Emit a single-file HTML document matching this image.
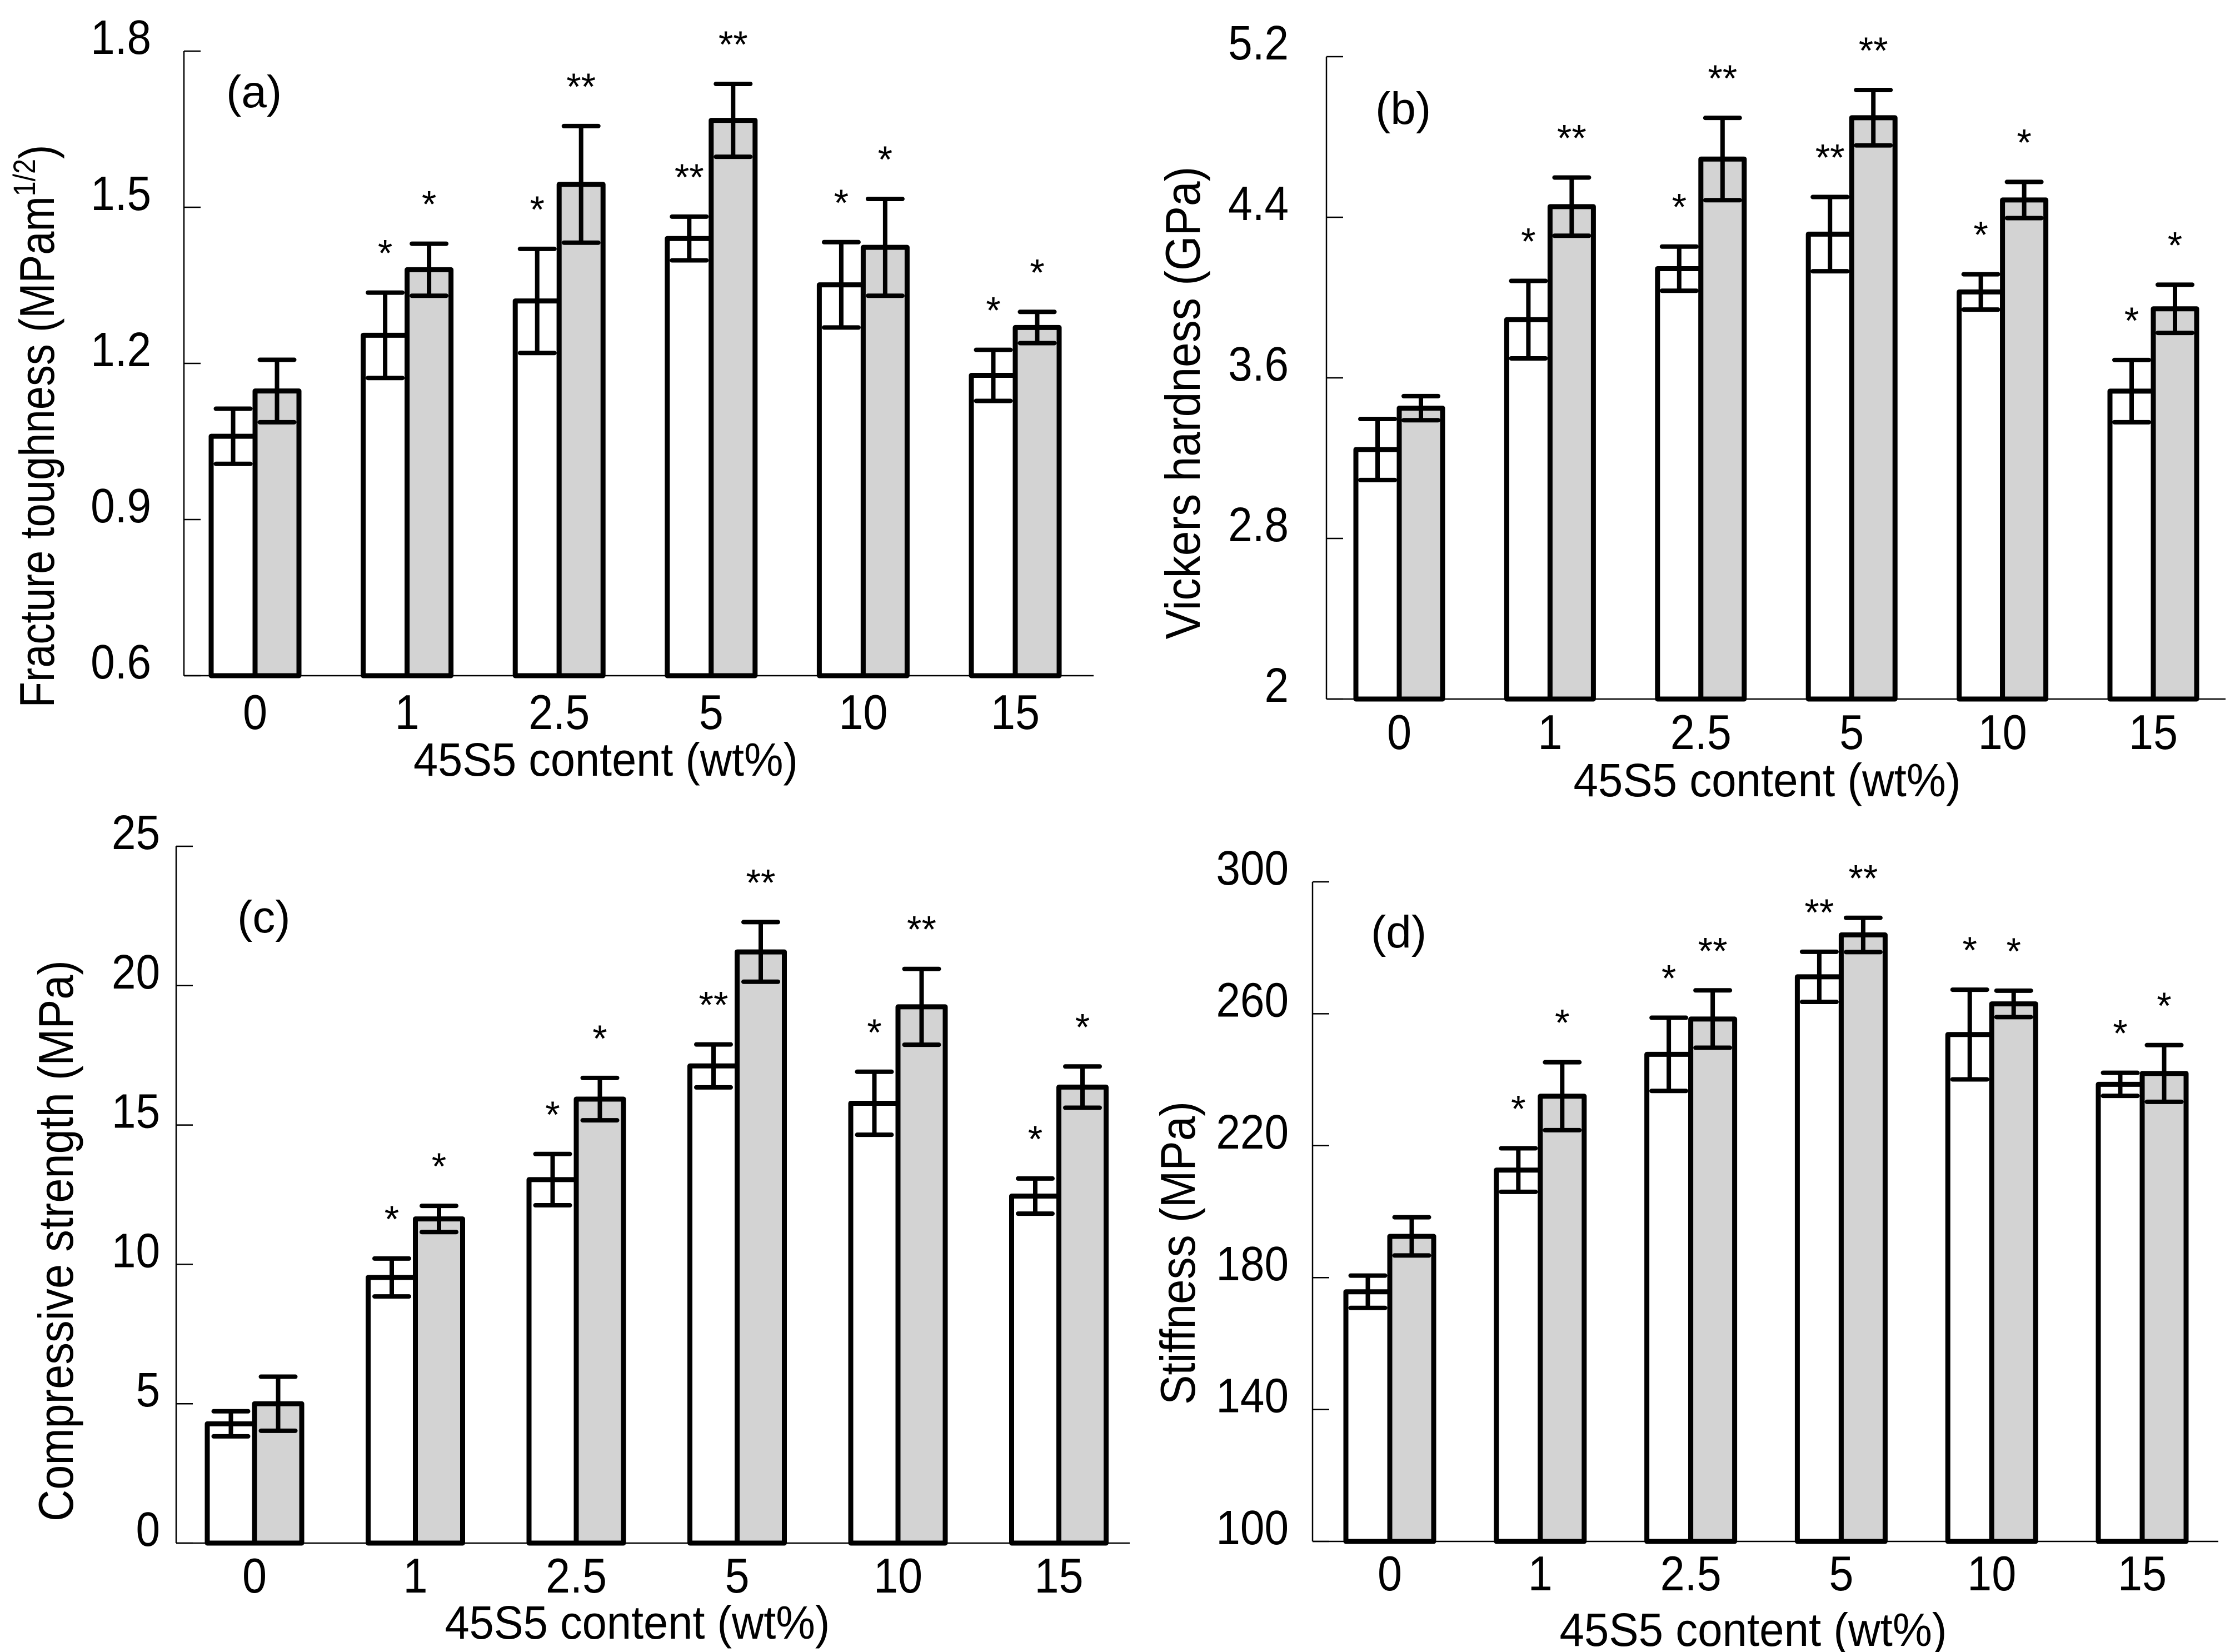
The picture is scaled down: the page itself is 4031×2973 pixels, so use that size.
<!DOCTYPE html>
<html><head><meta charset="utf-8"><style>
html,body{margin:0;padding:0;background:#fff;}
svg{display:block;font-family:"Liberation Sans",Arial,sans-serif;}
</style></head><body>
<svg id="fig" xmlns="http://www.w3.org/2000/svg" width="4031" height="2973" viewBox="0 0 4031 2973"></svg>
<script>
const categories = ['0','1','2.5','5','10','15'];

const aTicks = [0.6,0.9,1.2,1.5,1.8];
const aWhite = [1.06,1.254,1.32,1.44,1.351,1.177];
const aWhiteErr = [0.053,0.082,0.10,0.042,0.082,0.049];
const aGray = [1.147,1.38,1.544,1.667,1.423,1.269];
const aGrayErr = [0.06,0.05,0.112,0.07,0.093,0.03];
const aWhiteSig = ['','*','*','**','*','*'];
const aGraySig = ['','*','**','**','*','*'];

const bTicks = [2,2.8,3.6,4.4,5.2];
const bWhite = [3.243,3.89,4.144,4.316,4.028,3.534];
const bWhiteErr = [0.152,0.193,0.11,0.185,0.088,0.155];
const bGray = [3.449,4.453,4.69,4.896,4.486,3.944];
const bGrayErr = [0.06,0.145,0.205,0.138,0.09,0.12];
const bWhiteSig = ['','*','*','**','*','*'];
const bGraySig = ['','**','**','**','*','*'];

const cTicks = [0,5,10,15,20,25];
const cWhite = [4.28,9.53,13.04,17.12,15.78,12.45];
const cWhiteErr = [0.45,0.68,0.92,0.77,1.13,0.63];
const cGray = [5.0,11.63,15.93,21.21,19.24,16.36];
const cGrayErr = [0.97,0.47,0.76,1.07,1.36,0.74];
const cWhiteSig = ['','*','*','**','*','*'];
const cGraySig = ['','*','*','**','**','*'];

const dTicks = [100,140,180,220,260,300];
const dWhite = [175.7,212.6,247.7,271.2,253.7,238.6];
const dWhiteErr = [4.9,6.6,11.1,7.6,13.6,3.5];
const dGray = [192.5,235,258.4,283.9,263,241.9];
const dGrayErr = [5.8,10.3,8.7,5.2,4.0,8.6];
const dWhiteSig = ['','*','*','**','*','*'];
const dGraySig = ['','*','**','**','*','*'];

const NS='http://www.w3.org/2000/svg';
const svg=document.getElementById('fig');
function mk(tag,attrs,parent){const e=document.createElementNS(NS,tag);for(const k in attrs)e.setAttribute(k,attrs[k]);(parent||svg).appendChild(e);return e;}

function panel(p){
  const g=mk('g',{});
  
  
  const min=p.ticks[0], max=p.ticks[p.ticks.length-1];
  const y=v=>p.yBot-(v-min)/(max-min)*(p.yBot-p.yTop);
  const x=i=>p.c0+i*p.step;
  const ya=mk('line',{x1:p.axisX,y1:p.yTop,x2:p.axisX,y2:p.yBot,stroke:'#000','stroke-width':2.5},g);
  
  
  const xa=mk('line',{x1:p.axisX,y1:p.yBot,x2:p.xEnd,y2:p.yBot,stroke:'#000','stroke-width':2.5},g);
  
  
  p.ticks.forEach(t=>{
    const tl=mk('line',{x1:p.axisX,y1:y(t),x2:p.axisX+30,y2:y(t),stroke:'#000','stroke-width':2.5},g);
    
    
    const tx=mk('text',{transform:`translate(${p.tickRight},${y(t)+5}) scale(0.9,1)`,'text-anchor':'end','font-size':87},g);
    tx.textContent=String(t);
    
    
  });
  const series=[{v:p.white,e:p.whiteErr,s:p.whiteSig,fill:'#ffffff',off:-p.barW,n:'white'},{v:p.gray,e:p.grayErr,s:p.graySig,fill:'#d3d3d3',off:0,n:'gray'}];
  categories.forEach((c,i)=>{
    series.forEach(s=>{
      const bx=x(i)+s.off, by=y(s.v[i]);
      const r=mk('rect',{x:bx,y:by,width:p.barW,height:p.yBot-by,fill:s.fill,stroke:'#000','stroke-width':9,'stroke-linejoin':'round'},g);
      
      
      const cx=bx+p.barW/2, hi=y(s.v[i]+s.e[i]), lo=y(s.v[i]-s.e[i]);
      const eb=mk('path',{d:`M${cx},${hi}V${lo}M${cx-31},${hi}H${cx+31}M${cx-31},${lo}H${cx+31}`,stroke:'#000','stroke-width':8,'stroke-linecap':'round',fill:'none'},g);
      
      
      if(s.s[i]){
        const st=mk('text',{x:cx,y:hi-48,'text-anchor':'middle','font-size':68},g);
        st.textContent=s.s[i];
        
        
      }
    });
    const xl=mk('text',{transform:`translate(${x(i)},${p.xTickY}) scale(0.9,1)`,'text-anchor':'middle','font-size':88},g);
    xl.textContent=c;
    
    
  });
  // x title: fit to measured length
  const xt=mk('text',{x:0,y:0,'font-size':84},g);
  xt.textContent='45S5 content (wt%)';
  
  
  const xl0=xt.getComputedTextLength()||1;
  xt.setAttribute('transform',`translate(${p.xTitleX-p.xTitleLen/2},${p.xTitleY}) scale(${p.xTitleLen/xl0},1)`);
  // y title
  const yt=mk('text',{x:0,y:0,'font-size':88},g);
  if(p.sup){
    const t1=mk('tspan',{},yt);t1.textContent=p.yTitle;
    const ts=mk('tspan',{'font-size':56,dy:-34},yt);ts.textContent='1/2';
    const t2=mk('tspan',{dy:34},yt);t2.textContent=')';
  } else yt.textContent=p.yTitle;
  
  
  let yl0=1;try{yl0=yt.getBBox().width||1;}catch(e){}
  const sc=p.yTitleLen/yl0;
  yt.setAttribute('transform',`translate(${p.yTitleX+31},${p.yTitleY+p.yTitleLen/2}) rotate(-90) scale(${sc},1)`);
  const pl=mk('text',{x:p.lblX,y:p.lblY,'font-size':82},g);
  pl.textContent='('+p.id+')';
  
  
}

panel({id:'a',ticks:aTicks,white:aWhite,whiteErr:aWhiteErr,gray:aGray,grayErr:aGrayErr,whiteSig:aWhiteSig,graySig:aGraySig,
  axisX:331,yTop:92,yBot:1216,xEnd:1968,c0:459,step:273.6,barW:79,tickRight:272,xTickY:1312,
  xTitleX:1090,xTitleY:1396,xTitleLen:692,yTitleX:66,yTitleY:767,yTitleLen:1013,yTitle:'Fracture toughness (MPam',sup:true,lblX:407,lblY:193});
panel({id:'b',ticks:bTicks,white:bWhite,whiteErr:bWhiteErr,gray:bGray,grayErr:bGrayErr,whiteSig:bWhiteSig,graySig:bGraySig,
  axisX:2387,yTop:102,yBot:1258,xEnd:4005,c0:2518,step:271.4,barW:78,tickRight:2319,xTickY:1348,
  xTitleX:3180,xTitleY:1433,xTitleLen:697,yTitleX:2128,yTitleY:725,yTitleLen:851,yTitle:'Vickers hardness (GPa)',lblX:2475,lblY:223});
panel({id:'c',ticks:cTicks,white:cWhite,whiteErr:cWhiteErr,gray:cGray,grayErr:cGrayErr,whiteSig:cWhiteSig,graySig:cGraySig,
  axisX:317,yTop:1523,yBot:2777,xEnd:2033,c0:458,step:289.5,barW:85,tickRight:288,xTickY:2866,
  xTitleX:1147,xTitleY:2949,xTitleLen:693,yTitleX:100,yTitleY:2233,yTitleLen:1010,yTitle:'Compressive strength (MPa)',lblX:427,lblY:1678});
panel({id:'d',ticks:dTicks,white:dWhite,whiteErr:dWhiteErr,gray:dGray,grayErr:dGrayErr,whiteSig:dWhiteSig,graySig:dGraySig,
  axisX:2362,yTop:1587,yBot:2774,xEnd:3992,c0:2501,step:270.8,barW:79,tickRight:2319,xTickY:2862,
  xTitleX:3155,xTitleY:2962,xTitleLen:697,yTitleX:2119,yTitleY:2255,yTitleLen:546,yTitle:'Stiffness (MPa)',lblX:2467,lblY:1705});
</script>
</body></html>
